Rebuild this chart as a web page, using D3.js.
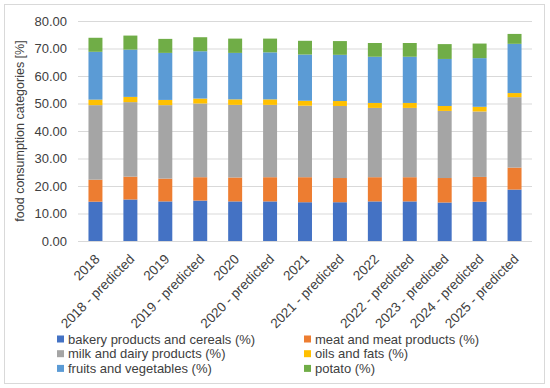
<!DOCTYPE html>
<html>
<head>
<meta charset="utf-8">
<script src="https://cdn.jsdelivr.net/npm/d3@7"></script>
<style>
  body { margin: 0; background: #fff; }
  text { font-family: "Liberation Sans", Arial, sans-serif; fill: #404040; }
</style>
</head>
<body>
<div id="chart"></div>
<script>
// categories and series (values in %)
var years = ["2018", "2018 - predicted", "2019", "2019 - predicted", "2020", "2020 - predicted",
    "2021", "2021 - predicted", "2022", "2022 - predicted", "2023 - predicted", "2024 - predicted", "2025 - predicted"];
var bakery = [14.3, 15.1, 14.4, 14.7, 14.4, 14.4, 14.1, 14.1, 14.4, 14.4, 14.0, 14.3, 18.7];
var meat   = [8.0, 8.3, 8.3, 8.5, 8.7, 8.8, 9.1, 8.8, 8.8, 8.8, 8.9, 9.0, 8.0];
var milk   = [27.1, 27.1, 26.7, 26.8, 26.4, 26.3, 26.0, 26.2, 25.2, 25.2, 24.4, 23.8, 25.6];
var oils   = [2.0, 1.9, 1.9, 1.8, 2.0, 2.0, 1.8, 1.8, 1.8, 1.8, 1.8, 1.7, 1.5];
var fruits = [17.4, 17.2, 17.1, 17.2, 16.9, 17.1, 16.8, 16.8, 16.8, 16.8, 17.1, 17.7, 17.9];
var potato = [5.1, 5.1, 5.1, 5.1, 5.2, 5.0, 5.0, 5.0, 5.0, 5.0, 5.4, 5.3, 3.6];
var seriesNames = ["bakery products and cereals (%)", "meat and meat products (%)", "milk and dairy products (%)",
    "oils and fats (%)", "fruits and vegetables (%)", "potato (%)"];
var colors = ["#4472C4", "#ED7D31", "#A5A5A5", "#FFC000", "#5B9BD5", "#70AD47"];
var yTicks = [0, 10, 20, 30, 40, 50, 60, 70, 80];

var W = 550, H = 388;
var margin = {top: 21, right: 18, bottom: 147, left: 78};
var width = W - margin.left - margin.right,
    height = H - margin.top - margin.bottom;

var svg = d3.select("#chart").append("svg")
    .attr("width", W)
    .attr("height", H);

// outer frame
svg.append("rect")
    .attr("x", 4.5).attr("y", 4.5)
    .attr("width", 540).attr("height", 379)
    .attr("fill", "#fff")
    .attr("stroke", "#d9d9d9");

var g = svg.append("g")
    .attr("transform", "translate(" + margin.left + "," + margin.top + ")");

var x = d3.scaleBand().domain(years).range([0, width]).paddingInner(0.6).paddingOuter(0.3);
var y = d3.scaleLinear().domain([0, 80]).range([height, 0]);

// gridlines
g.selectAll(".grid").data(yTicks).enter().append("line")
    .attr("x1", 0).attr("x2", width)
    .attr("y1", d => y(d) + 0.5).attr("y2", d => y(d) + 0.5)
    .attr("stroke", "#d9d9d9");

// stack the data
var table = years.map(function(yr, i) {
    return {year: yr, s0: bakery[i], s1: meat[i], s2: milk[i], s3: oils[i], s4: fruits[i], s5: potato[i]};
});
var keys = ["s0", "s1", "s2", "s3", "s4", "s5"];
var stacked = d3.stack().keys(keys)(table);

g.selectAll(".layer").data(stacked).enter().append("g")
    .attr("fill", (d, i) => colors[i])
    .selectAll("rect")
    .data(d => d)
    .enter().append("rect")
    .attr("x", d => x(d.data.year))
    .attr("width", x.bandwidth())
    .attr("y", d => y(d[1]))
    .attr("height", d => y(d[0]) - y(d[1]));

// y axis labels
var yAxis = d3.axisLeft(y).tickValues(yTicks).tickFormat(d3.format(".2f")).tickSize(0).tickPadding(11);
var ya = g.append("g").call(yAxis);
ya.select(".domain").remove();
ya.selectAll("text").style("font-size", "13px").style("font-family", "Liberation Sans, Arial").attr("fill", "#404040");

// x axis labels (rotated)
var xAxis = d3.axisBottom(x).tickSize(0).tickPadding(0);
var xa = g.append("g").attr("transform", "translate(0," + height + ")").call(xAxis);
xa.select(".domain").remove();
xa.selectAll("text")
    .style("font-size", "13.5px")
    .style("text-anchor", "end")
    .attr("fill", "#404040")
    .attr("x", 0).attr("y", 0)
    .attr("dy", 0)
    .attr("transform", "translate(5,19) rotate(-45)");

// y axis title
g.append("text")
    .attr("transform", "rotate(-90)")
    .attr("x", -height / 2)
    .attr("y", -margin.left + 24)
    .style("text-anchor", "middle")
    .style("font-size", "12.5px")
    .text("food consumption categories [%]");

// legend
var legend = svg.append("g");
var item = legend.selectAll(".item").data(seriesNames).enter().append("g")
    .attr("transform", (d, i) => "translate(" + (i % 2 == 0 ? 57 : 304) + "," + (339 + Math.floor(i / 2) * 14.7) + ")");
item.append("rect")
    .attr("x", 0).attr("y", -3.5)
    .attr("width", 7).attr("height", 7)
    .attr("fill", (d, i) => colors[i]);
item.append("text")
    .attr("x", 11).attr("y", 0)
    .attr("dy", "0.35em")
    .style("font-size", "13px")
    .text(d => d);
</script>
</body>
</html>
